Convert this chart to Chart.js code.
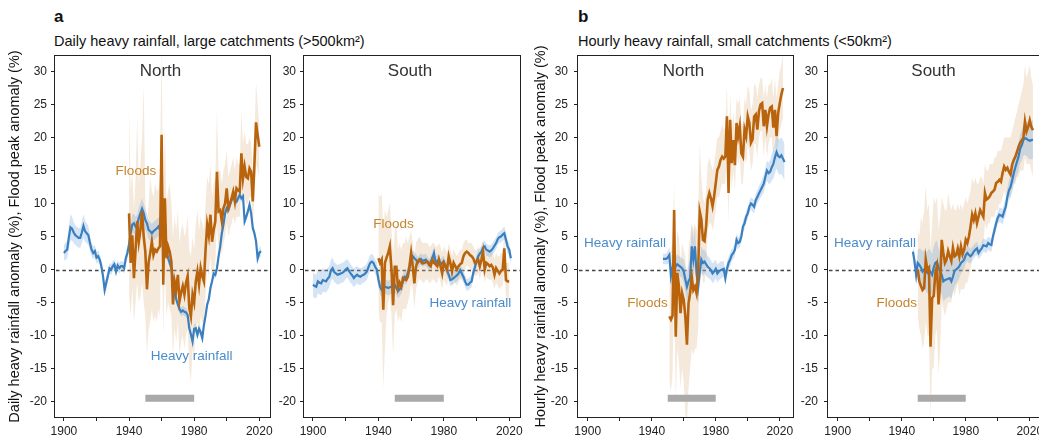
<!DOCTYPE html>
<html lang="en">
<head>
<meta charset="utf-8">
<title>Heavy rainfall and flood peak anomalies</title>
<script src="https://cdn.jsdelivr.net/npm/chart.js@4.4.1/dist/chart.umd.min.js"></script>
<style>
  html, body { margin: 0; padding: 0; background: #fff; width: 1039px; height: 436px; overflow: hidden; }
  body { position: relative; font-family: "Liberation Sans", Arial, sans-serif; color: #111; }
  .panel { position: absolute; top: 0; }
  .tag { position: absolute; font-weight: bold; font-size: 17px; line-height: 20px; }
  .sub { position: absolute; font-size: 14.5px; line-height: 16px; white-space: nowrap; }
</style>
</head>
<body>
<div class="tag" style="left:54px; top:7px;">a</div>
<div class="sub" style="left:54px; top:33px;">Daily heavy rainfall, large catchments (&gt;500km²)</div>
<div class="tag" style="left:578px; top:7px;">b</div>
<div class="sub" style="left:578px; top:33px;">Hourly heavy rainfall, small catchments (&lt;50km²)</div>

<canvas id="dailyNorth" class="panel" width="280" height="450" style="left:0px"></canvas>
<canvas id="dailySouth" class="panel" width="260" height="450" style="left:275px"></canvas>
<canvas id="hourlyNorth" class="panel" width="270" height="450" style="left:530px"></canvas>
<canvas id="hourlySouth" class="panel" width="260" height="450" style="left:790px"></canvas>

<script>
// ===== DATA =====
const xTickYears = [1900, 1920, 1940, 1960, 1980, 2000, 2020];
const xLabelYears = [1900, 1940, 1980, 2020];
const yTickValues = [-20, -15, -10, -5, 0, 5, 10, 15, 20, 25, 30];
const referencePeriod = [1950, 1980];
const referenceLevel = -19.5;

// --- a, North (daily rainfall, large catchments) ---
const dailyNorthRainStart = 1900;
const dailyNorthRain = [
  2.5, 2.8, 3.0, 4.8, 6.4, 6.2, 5.6, 5.2, 5.0, 4.8,
  4.8, 5.6, 6.6, 5.8, 5.5, 5.2, 4.0, 3.0, 2.5, 2.8,
  1.8, 2.0, 1.5, 0.5, -1.0, -3.1, -2.0, -1.0, 0.2, 0.0,
  0.5, 0.8, -0.3, 0.6, 0.2, 0.5, 0.5, 0.2, 1.7, 2.5,
  3.8, 5.5, 6.8, 7.0, 6.5, 6.8, 7.8, 8.5, 9.2, 8.5,
  7.5, 7.0, 6.0, 5.8, 5.5, 5.8, 6.0, 6.2, 6.5, 6.0,
  5.8, 5.0, 4.7, 3.0, 1.7, 1.0, 0.2, -1.5, -3.3, -4.5,
  -5.3, -6.0, -6.4, -6.2, -6.4, -6.5, -6.9, -8.9, -9.8, -10.9,
  -9.0, -8.9, -9.9, -9.0, -9.5, -10.4, -8.4, -7.0, -5.3, -4.5,
  -2.8, -1.8, -0.6, -0.8, 0.2, 2.0, 3.5, 5.5, 6.8, 8.5,
  9.3, 9.0, 9.8, 10.5, 11.1, 10.5, 10.3, 10.8, 11.3, 10.8,
  11.1, 7.3, 8.0, 8.8, 9.8, 8.5, 6.3, 5.5, 4.3, 1.7,
  2.5, 2.8
];
const dailyNorthRainErr = [
  1.2, 1.3, 1.4, 1.6, 2.0, 1.8, 1.6, 1.5, 1.5, 1.5,
  1.5, 1.6, 1.8, 1.6, 1.5, 1.4, 1.2, 1.0, 1.0, 0.9,
  0.9, 0.9, 0.8, 0.8, 0.8, 0.9, 1.0, 0.9, 0.8, 0.8,
  0.8, 0.8, 0.8, 0.8, 0.8, 0.8, 0.8, 0.8, 0.9, 1.0,
  1.2, 1.3, 1.5, 1.5, 1.5, 1.5, 1.6, 1.6, 1.6, 1.5,
  1.5, 1.5, 1.4, 1.4, 1.4, 1.4, 1.4, 1.4, 1.4, 1.3,
  1.2, 1.1, 1.0, 0.9, 0.8, 0.8, 0.7, 0.7, 0.7, 0.7,
  0.7, 0.7, 0.7, 0.7, 0.7, 0.7, 0.7, 0.7, 0.7, 0.7,
  0.7, 0.7, 0.7, 0.7, 0.7, 0.7, 0.7, 0.7, 0.6, 0.6,
  0.6, 0.6, 0.6, 0.6, 0.6, 0.6, 0.6, 0.6, 0.6, 0.6,
  0.6, 0.6, 0.6, 0.6, 0.6, 0.6, 0.6, 0.6, 0.6, 0.6,
  0.6, 0.6, 0.6, 0.6, 0.6, 0.6, 0.6, 0.7, 0.7, 0.8,
  0.8, 0.8
];
const dailyNorthFloodStart = 1940;
const dailyNorthFlood = [
  8.5, 1.0, 5.2, -1.3, 3.0, 7.3, 4.2, 6.0, 8.8, 5.0,
  2.7, -3.0, 1.0, 2.5, 4.2, 2.2, 3.0, 2.7, 3.2, 3.5,
  20.4, -2.3, 10.8, 1.7, 3.5, 2.7, 1.2, -5.3, -1.8, -3.0,
  -0.8, -4.8, -3.5, -2.5, -3.8, -2.0, -1.0, -5.8, -7.1, -3.8,
  -5.0, -1.8, -0.3, -2.3, 0.2, -1.0, -1.8, 3.0, 6.8, 5.2,
  8.3, 4.2, 6.0, 7.3, 14.8, 8.8, 9.0, 7.3, 9.3, 10.0,
  12.3, 9.3, 10.0, 10.8, 11.8, 10.3, 12.3, 12.0, 11.8, 17.6,
  13.8, 15.6, 14.0, 13.8, 15.3, 14.8, 10.3, 15.8, 22.3, 20.4,
  18.6
];
const dailyNorthFloodHi = [
  25, 12, 15, 9, 14, 23, 13, 16, 20, 28,
  11, 6, 10, 14, 12, 11, 13, 12, 12, 14,
  34, 8, 22, 10, 12, 13, 10, 5, 8, 6,
  9, 4, 6, 7, 5, 6, 8, 3, 2, 5,
  3, 7, 9, 6, 8, 7, 6, 10, 14, 13,
  16, 11, 13, 14, 24, 15, 15, 13, 15, 16,
  18, 14, 15, 16, 17, 15, 17, 16, 16, 24,
  19, 21, 19, 19, 20, 19, 15, 20, 28.5, 25,
  22
];
const dailyNorthFloodLo = [
  -4, -7, -3, -8, -5, -2, -5, -4, -2, -5,
  -7, -13, -9, -8, -6, -8, -7, -8, -6, -7,
  7, -10, 0, -7, -5, -6, -7, -13, -9, -11,
  -8, -13, -11, -10, -12, -10, -9, -15, -17, -12,
  -13, -9, -8, -10, -7, -8, -8, -4, 0, -1,
  2, -2, 0, 1, 7, 3, 4, 2, 4, 5,
  7, 5, 6, 7, 8, 7, 8, 8, 8, 12,
  10, 11, 10, 10, 11, 11, 6, 11, 16, 15,
  14
];

// --- a, South ---
const dailySouthRainStart = 1900;
const dailySouthRain = [
  -2.3, -2.5, -2.6, -1.8, -2.0, -2.1, -1.6, -1.7, -1.8, -1.4,
  -1.1, -0.1, 0.2, -0.4, -0.6, -0.8, -0.7, -0.6, -0.5, -0.3,
  0.0, 0.2, -0.2, -0.6, -0.9, -1.3, -1.0, -0.8, -1.0, -1.1,
  -0.9, -0.8, -0.6, -0.3, 0.4, 1.0, 1.2, 1.0, 0.4, 0.0,
  -1.5, -2.6, -3.1, -2.8, -2.6, -2.7, -2.8, -2.7, -2.6, -2.4,
  -2.3, -2.8, -3.3, -3.0, -2.6, -1.8, -1.1, -1.3, -0.5, 0.2,
  1.2, 2.0, 1.7, 1.5, 1.0, 1.3, 1.6, 1.3, 1.4, 1.5,
  1.1, 0.7, 1.2, 1.7, 2.5, 1.0, 1.3, 1.5, 0.7, 1.0,
  1.2, 0.5, -0.2, -0.8, -1.6, -1.5, -1.3, -1.1, -0.9, -0.6,
  -0.1, -0.6, -1.1, -1.8, -2.3, -2.3, -2.0, -1.8, -0.5, 0.3,
  1.2, 2.0, 2.4, 2.7, 3.3, 3.5, 3.0, 2.9, 2.7, 2.9,
  3.2, 3.6, 4.0, 4.6, 4.9, 5.0, 5.3, 5.5, 4.5, 3.5,
  3.0, 1.7
];
const dailySouthRainErr = [
  1.8, 1.8, 1.8, 1.8, 1.8, 1.8, 1.8, 1.7, 1.7, 1.7,
  1.6, 1.6, 1.6, 1.5, 1.5, 1.5, 1.5, 1.5, 1.5, 1.5,
  1.4, 1.4, 1.4, 1.4, 1.4, 1.4, 1.4, 1.3, 1.3, 1.3,
  1.2, 1.2, 1.2, 1.2, 1.2, 1.2, 1.2, 1.1, 1.1, 1.1,
  1.1, 1.1, 1.1, 1.1, 1.1, 1.1, 1.1, 1.1, 1.1, 1.1,
  1.1, 1.1, 1.1, 1.1, 1.1, 1.1, 1.0, 1.0, 1.0, 1.0,
  0.9, 0.9, 0.9, 0.9, 0.9, 0.9, 0.9, 0.9, 0.9, 0.9,
  0.9, 0.9, 0.9, 0.9, 0.9, 0.9, 0.9, 0.9, 0.9, 0.9,
  0.9, 0.9, 0.9, 0.9, 0.9, 0.9, 0.9, 0.9, 0.9, 0.9,
  0.9, 0.9, 0.9, 0.9, 0.9, 0.9, 0.9, 0.9, 0.9, 0.9,
  0.9, 0.9, 0.9, 0.9, 0.9, 0.9, 0.9, 0.9, 0.9, 0.9,
  0.9, 0.9, 0.9, 0.9, 0.9, 0.9, 0.9, 1.0, 1.0, 1.0,
  1.0, 1.0
];
const dailySouthFloodStart = 1940;
const dailySouthFlood = [
  1.7, 1.0, 1.5, -6.1, 1.0, 1.8, 2.5, 3.5, 0.0, -5.4,
  0.4, 0.4, -2.8, -2.0, -2.6, -1.3, -1.5, -1.6, -1.1, 0.5,
  2.5, 0.5, -2.1, 0.5, 1.2, 1.5, 1.2, 0.9, 1.0, 1.1,
  1.2, 0.8, 0.5, 1.5, 1.0, 0.8, 0.5, 1.5, 0.5, -0.6,
  1.0, 0.5, 0.0, 2.0, 1.0, -0.3, 1.0, 0.5, 0.0, 0.5,
  0.8, 1.0, 2.0, 2.5, 2.7, 2.5, 2.2, 2.0, 1.7, 1.0,
  1.2, 1.5, 0.5, 1.5, 2.7, 0.0, 1.0, 0.8, 0.5, 0.7,
  0.3, -0.8, 0.2, -0.2, -0.6, -0.2, 0.0, 3.2, -1.6, -1.8,
  -1.8
];
const dailySouthFloodHi = [
  11.5, 11, 11.5, 6, 9, 8, 9, 10, 6, 2,
  6, 7, 3, 4, 3, 4, 4, 5, 4, 5,
  6, 4, 2, 4, 4.5, 5, 4.5, 4, 4, 4,
  4, 3.5, 3.5, 4, 4, 3.5, 3.5, 4, 3.5, 2.5,
  3.5, 3, 2.5, 4, 3, 2, 3, 2.5, 2, 2.5,
  3, 3, 4, 4.5, 4.5, 4, 4, 4, 3.5, 3,
  3, 3.5, 2.5, 3.5, 4.5, 2, 3, 3, 2.5, 3,
  2.5, 1.5, 2.5, 2, 2, 2.5, 2.5, 5.5, 1, 1,
  1
];
const dailySouthFloodLo = [
  -6, -8, -8, -18, -12, -7, -5, -4, -7, -13,
  -7, -6, -8, -7, -8, -6, -6, -6, -5, -4,
  -2, -3, -6, -3, -2, -1.5, -1.5, -2, -2, -1.5,
  -1.5, -2, -2, -1.5, -1.5, -2, -2, -1, -2, -3,
  -1.5, -2, -2.5, -0.5, -1.5, -2.5, -1.5, -2, -2.5, -2,
  -1.5, -1.5, -0.5, 0, 0.5, 0.5, 0, 0, -0.5, -1,
  -1, -0.5, -1.5, -0.5, 0.5, -2, -1, -1.5, -1.5, -1.5,
  -2, -3, -2, -2.5, -3, -2.5, -2.5, 0, -4, -4.5,
  -4.5
];

// --- b, North (hourly rainfall, small catchments) ---
const hourlyNorthRainStart = 1947;
const hourlyNorthRain = [
  1.6, 1.6, 1.6,
  1.8, 2.2, -1.0, 0.3, 0.7, 0.5, 0.8, 0.6, 0.4, 0.2,
  -0.3, -1.5, -2.6, -1.8, -1.3, 3.5, 1.5, 3.5, -0.5, -2.6,
  -0.5, 1.5, 1.0, 1.2, 0.8, 0.4, 0.2, -0.1, -0.6, -0.3,
  0.1, -0.6, -0.3, -0.1, 0.0, 0.1, -1.3, 0.1, 1.0, 1.5,
  2.2, 2.5, 3.0, 4.5, 4.0, 4.2, 5.0, 6.5, 7.0, 8.0,
  8.5, 9.5, 10.0, 9.8, 9.5, 10.5, 11.0, 11.5, 12.0, 12.5,
  13.0, 14.0, 15.0, 14.6, 14.8, 15.5, 16.0, 17.0, 17.8, 17.2,
  17.0, 17.3, 16.8, 16.3
];
const hourlyNorthRainErr = [
  0.8, 0.8, 0.8,
  1.0, 1.2, 1.5, 1.5, 1.5, 1.5, 1.5, 1.5, 1.5, 1.5,
  1.8, 2.0, 2.2, 2.5, 3.0, 3.5, 3.0, 3.0, 2.5, 2.5,
  2.0, 2.0, 2.0, 1.8, 1.8, 1.6, 1.6, 1.5, 1.5, 1.5,
  1.4, 1.4, 1.3, 1.3, 1.2, 1.2, 1.2, 1.0, 1.0, 1.0,
  0.9, 0.9, 0.9, 0.9, 0.9, 0.9, 0.9, 0.9, 0.9, 0.9,
  0.9, 0.9, 0.9, 1.0, 1.0, 1.0, 1.0, 1.1, 1.1, 1.2,
  1.3, 1.4, 1.5, 1.6, 1.8, 2.0, 2.2, 2.4, 2.5, 2.6,
  2.7, 2.8, 2.8, 2.8
];
const hourlyNorthFloodStart = 1951;
const hourlyNorthFlood = [
  -7.1, -7.6, -7.0, 9.0, -10.2, -0.5, -2.6, -6.6, -3.6,
  -4.6, -7.1, -11.4, -5.1, -3.6, -1.1, -3.1, -2.6, -3.6, -0.5,
  8.8, 7.6, 4.5, 4.3, 6.6, 10.6, 11.6, 10.8, 9.6, 11.1,
  13.1, 15.1, 15.6, 16.6, 17.1, 16.8, 17.1, 23.2, 11.6, 22.7,
  16.1, 19.6, 15.8, 22.2, 20.2, 21.7, 17.6, 17.1, 21.2, 20.2,
  23.2, 22.2, 19.2, 19.7, 23.2, 23.5, 21.2, 24.0, 25.0, 25.2,
  21.7, 24.2, 21.7, 23.5, 24.5, 24.7, 21.5, 24.2, 20.2, 23.7,
  25.2, 26.5, 27.5
];
const hourlyNorthFloodHi = [
  2, 3, 4, 13, 0, 6, 5, 1, 4,
  3, 2, -2, 3, 5, 7, 6, 7, 6, 9,
  19, 14, 11, 10, 12, 16, 17, 16, 15, 16,
  18, 20, 20, 21, 22, 21, 22, 28, 17, 27,
  21, 24, 21, 26, 25, 26, 22, 22, 26, 25,
  28, 27, 24, 25, 28, 28, 26, 28, 29, 29,
  26, 28, 26, 28, 28, 29, 26, 29, 26, 28,
  30, 31, 33
];
const hourlyNorthFloodLo = [
  -17, -18.5, -16, -3, -20, -12, -14, -18, -15,
  -17, -22, -23, -18, -15, -12, -13, -12, -12, -9,
  1, 1, -2, -2, 0, 6, 7, 7, 6, 7,
  9, 11, 11, 12, 13, 13, 13, 18, 7, 18,
  12, 15, 12, 18, 16, 17, 13, 13, 17, 16,
  19, 18, 15, 16, 19, 19, 17, 20, 21, 21,
  17, 20, 17, 19, 20, 20, 17, 20, 16, 19,
  21, 22, 23
];

// --- b, South ---
const hourlySouthRainStart = 1947;
const hourlySouthRain = [
  2.7, 1.2, -0.8,
  1.0, 0.7, 0.3, -0.3, 0.0, -0.2, -0.5, 0.0, -0.4, -0.8,
  0.3, 1.0, 1.2, 0.3, -0.3, -0.8, -1.8, -1.6, -1.5, -1.4,
  -1.3, -1.8, -1.1, -0.2, 0.0, 0.2, 0.5, 1.0, 1.2, 1.5,
  2.2, 2.5, 2.2, 2.0, 2.3, 2.7, 3.0, 3.2, 2.5, 2.9,
  3.2, 3.7, 3.6, 3.5, 4.0, 3.8, 3.7, 5.0, 6.0, 7.0,
  7.8, 8.3, 8.2, 8.0, 8.8, 9.5, 11.0, 12.0, 12.5, 13.5,
  14.6, 15.5, 16.3, 17.1, 18.3, 18.8, 19.6, 19.9, 19.8, 19.6,
  19.5, 19.6, 19.7
];
const hourlySouthRainErr = [
  1.0, 1.2, 1.5,
  2.0, 2.5, 2.8, 3.0, 3.0, 3.0, 3.2, 3.2, 3.2, 3.2,
  3.2, 3.2, 3.2, 3.0, 3.0, 3.0, 3.0, 3.0, 2.8, 2.8,
  2.8, 2.6, 2.5, 2.4, 2.2, 2.0, 1.8, 1.6, 1.5, 1.4,
  1.3, 1.2, 1.2, 1.1, 1.1, 1.0, 1.0, 1.0, 1.0, 1.0,
  1.0, 1.0, 1.0, 1.0, 1.0, 1.0, 1.0, 1.0, 1.0, 1.0,
  1.0, 1.1, 1.1, 1.2, 1.2, 1.3, 1.4, 1.5, 1.6, 1.7,
  1.8, 1.9, 2.0, 2.1, 2.2, 2.3, 2.4, 2.5, 2.6, 2.7,
  2.8, 2.9, 3.0
];
const hourlySouthFloodStart = 1950;
const hourlySouthFlood = [
  0.0, -1.8, -2.5, -3.1, -2.8, 1.5, 0.0, 0.3, -11.7, -4.3,
  -4.0, -0.5, 0.5, -5.3, -2.1, 4.5, 2.5, 1.0, 1.5, 2.8,
  2.0, 1.3, 3.3, 2.0, 2.2, 3.2, 2.0, 3.5, 2.3, 3.0,
  4.5, 4.0, 5.0, 6.5, 8.3, 7.5, 8.5, 7.0, 8.0, 9.0,
  8.5, 8.0, 11.6, 10.6, 10.8, 11.1, 11.6, 11.8, 12.1, 13.1,
  13.3, 13.6, 13.3, 14.6, 15.6, 15.1, 15.4, 14.8, 14.4, 15.9,
  16.6, 17.1, 17.8, 18.6, 19.2, 19.6, 19.9, 22.4, 20.9, 21.6,
  22.6, 21.6, 21.1
];
const hourlySouthFloodHi = [
  6, 5, 8, 7, 9, 12.6, 9, 10, 3, 7,
  11, 10, 11, 6, 8, 11, 10, 9, 9, 11.6,
  10, 9, 10, 9, 9, 10, 9, 10, 9, 10,
  11, 10, 11, 12, 14, 13, 14, 13, 13, 14,
  14, 13, 16, 15, 15, 16, 16, 16, 17, 17,
  18, 18, 18, 19, 20, 20, 20, 20, 20, 21,
  22, 23, 24, 25, 26, 27, 28, 31, 29, 30,
  31, 29, 28
];
const hourlySouthFloodLo = [
  -7, -9, -10, -12, -11, -8, -10, -10, -22.5, -15,
  -15, -10, -9, -16, -12, -5, -6, -7, -6, -5,
  -5, -5, -3, -4, -3, -2, -4, -3, -3, -3,
  -2, -2, -1, 0, 2, 2, 3, 2, 3, 4,
  4, 4, 7, 6, 7, 7, 8, 8, 8, 9,
  9, 10, 10, 11, 12, 11, 12, 11, 11, 12,
  13, 13, 14, 14, 15, 15, 15, 17, 16, 16,
  16, 15, 14
];

// ===== STYLE =====
const FONT = '"Liberation Sans", Arial, Helvetica, sans-serif';
const ORANGE = '#b9640c';
const ORANGE_TEXT = '#c5852f';
const ORANGE_BAND = 'rgba(226, 188, 146, 0.33)';
const BLUE = '#3a80c0';
const BLUE_TEXT = '#4a8ccb';
const BLUE_BAND = 'rgba(120, 172, 222, 0.32)';
const GREY_BAR = '#a9a9a9';
const INK = '#222';

// ===== HELPERS =====
function series(start, values) {
  return values.map((v, i) => ({ x: start + i, y: v }));
}

function shifted(start, values, err, sign) {
  return values.map((v, i) => ({ x: start + i, y: v + sign * err[i] }));
}

// Frame, dashed zero line and in-panel labels
function panelDecor(p) {
  return {
    id: 'panelDecor',
    beforeDatasetsDraw(chart) {
      const { ctx, chartArea: a, scales: { y } } = chart;
      const y0 = Math.round(y.getPixelForValue(0)) + 0.5;
      ctx.save();
      ctx.setLineDash([3.5, 3]);
      ctx.strokeStyle = '#444';
      ctx.lineWidth = 1.5;
      ctx.beginPath();
      ctx.moveTo(a.left + 2, y0);
      ctx.lineTo(a.right, y0);
      ctx.stroke();
      ctx.restore();
    },
    afterDatasetsDraw(chart) {
      const { ctx, chartArea: a, scales: { x, y } } = chart;
      ctx.save();
      ctx.textAlign = 'center';
      ctx.textBaseline = 'middle';
      ctx.fillStyle = '#333';
      ctx.font = '17px ' + FONT;
      ctx.fillText(p.name, (a.left + a.right) / 2 - 2, y.getPixelForValue(30));

      ctx.font = '13.5px ' + FONT;
      ctx.fillStyle = ORANGE_TEXT;
      ctx.fillText('Floods', x.getPixelForValue(p.floodTag[0]), y.getPixelForValue(p.floodTag[1]));
      ctx.fillStyle = BLUE_TEXT;
      ctx.fillText('Heavy rainfall', x.getPixelForValue(p.rainTag[0]), y.getPixelForValue(p.rainTag[1]));

      ctx.strokeStyle = INK;
      ctx.lineWidth = 1;
      ctx.strokeRect(Math.round(a.left) + 0.5, Math.round(a.top) + 0.5,
                     Math.round(a.width) - 1, Math.round(a.height) - 1);
      ctx.restore();
    }
  };
}

// ===== CHARTS =====
function buildPanel(canvasId, p) {
  const line = (data, color, width) => ({
    data, borderColor: color, borderWidth: width, pointRadius: 0, fill: false, tension: 0
  });
  const edge = (data, fillColor) => ({
    data, borderColor: 'rgba(0,0,0,0)', borderWidth: 1, pointRadius: 0, tension: 0,
    backgroundColor: fillColor || 'rgba(0,0,0,0)', fill: fillColor ? '+1' : false
  });

  // index 0 is drawn last, so the flood line ends up on top
  const datasets = [
    line(series(p.floodStart, p.flood), ORANGE, 2.6),
    line(series(p.rainStart, p.rain), BLUE, 2.2),
    Object.assign(line([
      { x: referencePeriod[0], y: referenceLevel },
      { x: referencePeriod[1], y: referenceLevel }
    ], GREY_BAR, 7), { borderCapStyle: 'butt' }),
    edge(shifted(p.rainStart, p.rain, p.rainErr, 1), BLUE_BAND),
    edge(shifted(p.rainStart, p.rain, p.rainErr, -1)),
    edge(series(p.floodStart, p.floodHi), ORANGE_BAND),
    edge(series(p.floodStart, p.floodLo))
  ];

  return new Chart(document.getElementById(canvasId), {
    type: 'line',
    data: { datasets },
    options: {
      responsive: false,
      animation: false,
      events: [],
      layout: { autoPadding: false, padding: { left: 0, right: p.padRight, top: 55, bottom: 0 } },
      plugins: { legend: { display: false }, tooltip: { enabled: false } },
      scales: {
        x: {
          type: 'linear',
          min: p.xMin,
          max: p.xMax,
          border: { display: false },
          grid: { drawOnChartArea: false, drawTicks: true, tickLength: 3, color: INK },
          ticks: {
            autoSkip: false, maxRotation: 0,
            padding: 3, color: INK, font: { family: FONT, size: 12 },
            callback: v => xLabelYears.includes(v) ? String(v) : ''
          },
          afterBuildTicks: s => { s.ticks = xTickYears.map(v => ({ value: v })); },
          afterFit: s => { s.height = 32; }
        },
        y: {
          type: 'linear',
          min: -22.5,
          max: 32.5,
          border: { display: false },
          grid: { drawOnChartArea: false, drawTicks: true, tickLength: 3, color: INK },
          ticks: {
            padding: p.tickPad, color: INK,
            font: { family: FONT, size: 12 },
            callback: v => String(v)
          },
          afterBuildTicks: s => { s.ticks = yTickValues.map(v => ({ value: v })); },
          title: {
            display: !!p.yTitle,
            text: p.yTitle || '',
            color: '#111',
            font: { family: FONT, size: 14.5 },
            padding: { top: p.titlePad, bottom: 0 }
          },
          afterFit: s => { s.width = p.axisWidth; }
        }
      }
    },
    plugins: [panelDecor(p)]
  });
}

document.addEventListener('DOMContentLoaded', function () {
  buildPanel('dailyNorth', {
    name: 'North', axisWidth: 54, padRight: 9, tickPad: 4, xMin: 1893.9, xMax: 2027.2,
    yTitle: 'Daily heavy rainfall anomaly (%), Flood peak anomaly (%)', titlePad: 6,
    rainStart: dailyNorthRainStart, rain: dailyNorthRain, rainErr: dailyNorthRainErr,
    floodStart: dailyNorthFloodStart, flood: dailyNorthFlood, floodHi: dailyNorthFloodHi, floodLo: dailyNorthFloodLo,
    floodTag: [1944.2, 14.85], rainTag: [1978.4, -13.2]
  });
  buildPanel('dailySouth', {
    name: 'South', axisWidth: 28, padRight: 14, tickPad: 4, xMin: 1893.9, xMax: 2027.2,
    rainStart: dailySouthRainStart, rain: dailySouthRain, rainErr: dailySouthRainErr,
    floodStart: dailySouthFloodStart, flood: dailySouthFlood, floodHi: dailySouthFloodHi, floodLo: dailySouthFloodLo,
    floodTag: [1949.2, 6.9], rainTag: [1996.3, -5.1]
  });
  buildPanel('hourlyNorth', {
    name: 'North', axisWidth: 47, padRight: 6, tickPad: 6, xMin: 1893.3, xMax: 2028.9,
    yTitle: 'Hourly heavy rainfall anomaly (%), Flood peak anomaly (%)', titlePad: 2,
    rainStart: hourlyNorthRainStart, rain: hourlyNorthRain, rainErr: hourlyNorthRainErr,
    floodStart: hourlyNorthFloodStart, flood: hourlyNorthFlood, floodHi: hourlyNorthFloodHi, floodLo: hourlyNorthFloodLo,
    floodTag: [1937.3, -5.1], rainTag: [1923.3, 4.0]
  });
  buildPanel('hourlySouth', {
    name: 'South', axisWidth: 37, padRight: 6, tickPad: 6, xMin: 1893.3, xMax: 2028.9,
    rainStart: hourlySouthRainStart, rain: hourlySouthRain, rainErr: hourlySouthRainErr,
    floodStart: hourlySouthFloodStart, flood: hourlySouthFlood, floodHi: hourlySouthFloodHi, floodLo: hourlySouthFloodLo,
    floodTag: [1936.9, -5.1], rainTag: [1923.3, 4.0]
  });
});
</script>
</body>
</html>
